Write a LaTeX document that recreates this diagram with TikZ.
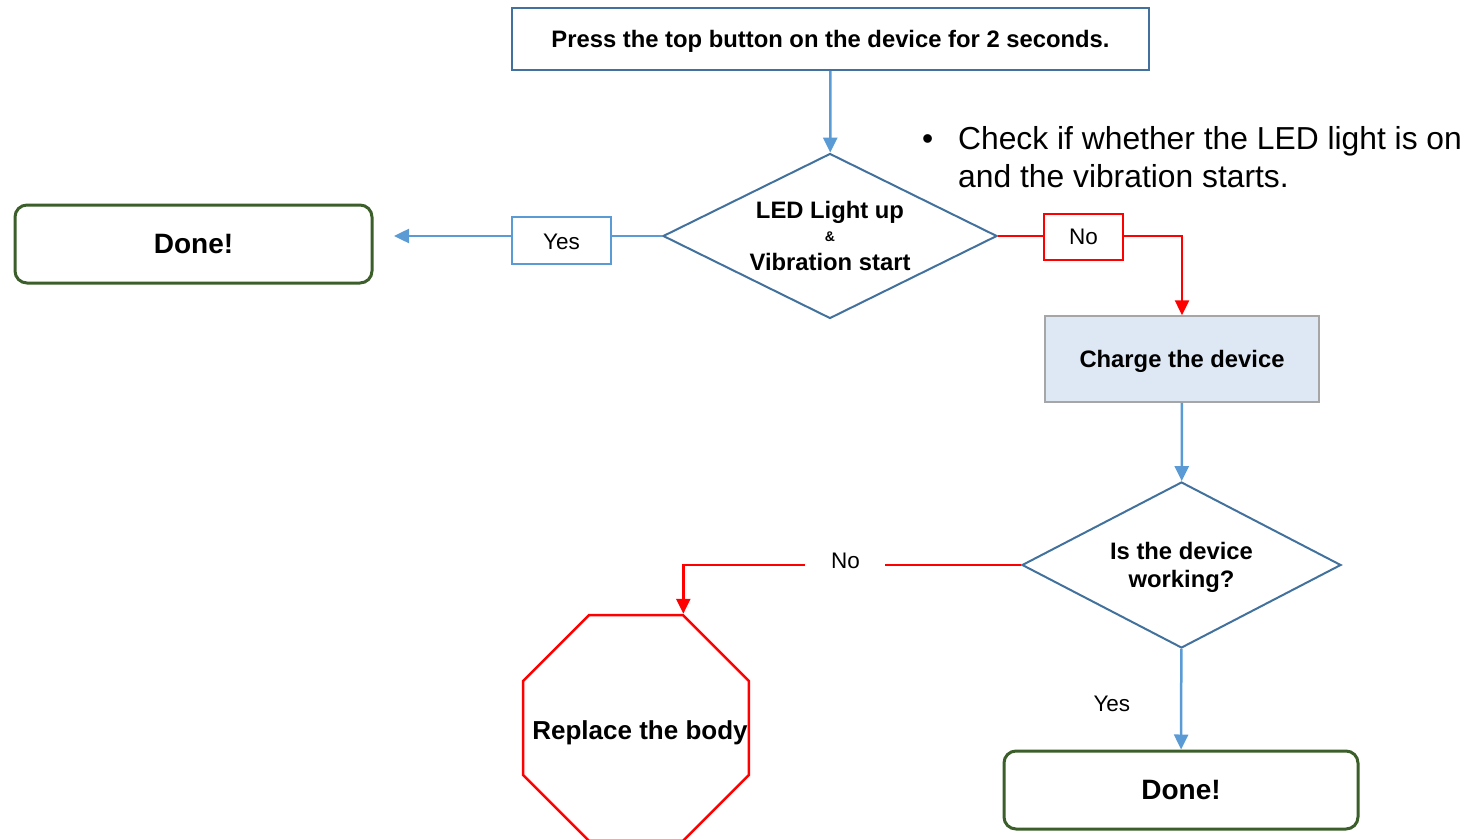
\documentclass[tikz,border=0pt]{standalone}
\usepackage{fontspec}
\setmainfont{Liberation Sans}
\usetikzlibrary{positioning, shapes.geometric, arrows.meta}

\definecolor{boxblue}{HTML}{41719C}
\definecolor{lineblue}{HTML}{5B9BD5}
\definecolor{donegreen}{HTML}{3B5E2B}
\definecolor{chargefill}{HTML}{DEE8F4}
\definecolor{chargeedge}{HTML}{A6A6A6}

\begin{document}
\begin{tikzpicture}[x=1pt, y=-1pt,
	every node/.style={inner sep=0pt},
	bigfont/.style={font=\bfseries\fontsize{23.8}{28}\selectfont},
	stepbox/.style={draw=boxblue, line width=2pt, bigfont, text depth=0pt},
	decision/.style={diamond, aspect=2, draw=boxblue, line width=2pt, align=center, bigfont, text depth=0pt},
	answer/.style={line width=2pt, font=\fontsize{22.5}{26}\selectfont, text depth=0pt},
	donebox/.style={draw=donegreen, line width=3pt, rounded corners=12pt, font=\bfseries\fontsize{28}{32}\selectfont, text depth=0pt},
	blueline/.style={draw=lineblue, line width=2.5pt},
	redline/.style={draw=red, line width=2.5pt},
	tip/.style={-{Triangle[length=15pt,width=14pt]}}
	]
	\useasboundingbox (0,0) rectangle (1468,840);

	\node (press) [stepbox, minimum width=637pt, minimum height=62pt] at (830.5,39) {Press the top button on the device for 2 seconds.};
	\node (led) [decision, minimum width=334pt, minimum height=165pt] at (830,236) {LED Light up\\[-5pt]{\fontsize{14}{14}\selectfont\&}\\[1pt]Vibration start};
	\node (note) [anchor=north west, align=left, font=\fontsize{31.8}{38}\selectfont] at (922,126) {\makebox[36pt][l]{\textbullet}Check if whether the LED light is on\\\hspace*{36pt}and the vibration starts.};

	\node (yes1) [answer, draw=lineblue, minimum width=99pt, minimum height=47pt] at (561.5,240.5) {\raisebox{-2pt}{Yes}};
	\node (done1) [donebox, minimum width=357pt, minimum height=78pt] at (193.5,244) {Done!};
	\coordinate (done1tip) at (394,236);

	\node (no1) [answer, draw=red, minimum width=79pt, minimum height=46pt] at (1083.5,237) {No};
	\node (charge) [draw=chargeedge, fill=chargefill, line width=1.5pt, bigfont, text depth=0pt, minimum width=274pt, minimum height=86pt] at (1182,359) {Charge the device};

	\node (work) [decision, minimum width=319pt, minimum height=166pt] at (1181.5,565) {Is the device\\working?};
	\node (done2) [donebox, minimum width=354pt, minimum height=78pt] at (1181,790) {Done!};
	\node (body) [regular polygon, regular polygon sides=8, minimum size=244.6pt, draw=red, line width=2.5pt, font=\bfseries\fontsize{26}{30}\selectfont] at (636,728) {\makebox[0pt]{\hspace*{8pt}\raisebox{-11pt}[0pt][0pt]{Replace the body}}};

	% blue flow
	\draw [blueline, tip] (press) -- (led);
	\draw [blueline] (led.west) -- (yes1.east |- led.west);
	\draw [blueline, tip] (yes1.west |- led.west) -- (done1tip);
	\draw [blueline, tip] (charge) -- (work);
	\draw [blueline, tip] (work) -- (done2) node[midway, left=50pt, yshift=-5pt, answer] (yes2) {Yes};

	% red flow
	\draw [redline] (led.east) -- (no1.west |- led.east);
	\draw [redline, tip] (no1.east |- led.east) -| (charge.north);
	\draw [redline, tip] (work.west) -| (body.corner 1) node[pos=0.26, yshift=4pt, fill=white, minimum width=80pt, minimum height=30pt, answer] (no2) {No};
\end{tikzpicture}
\end{document}
